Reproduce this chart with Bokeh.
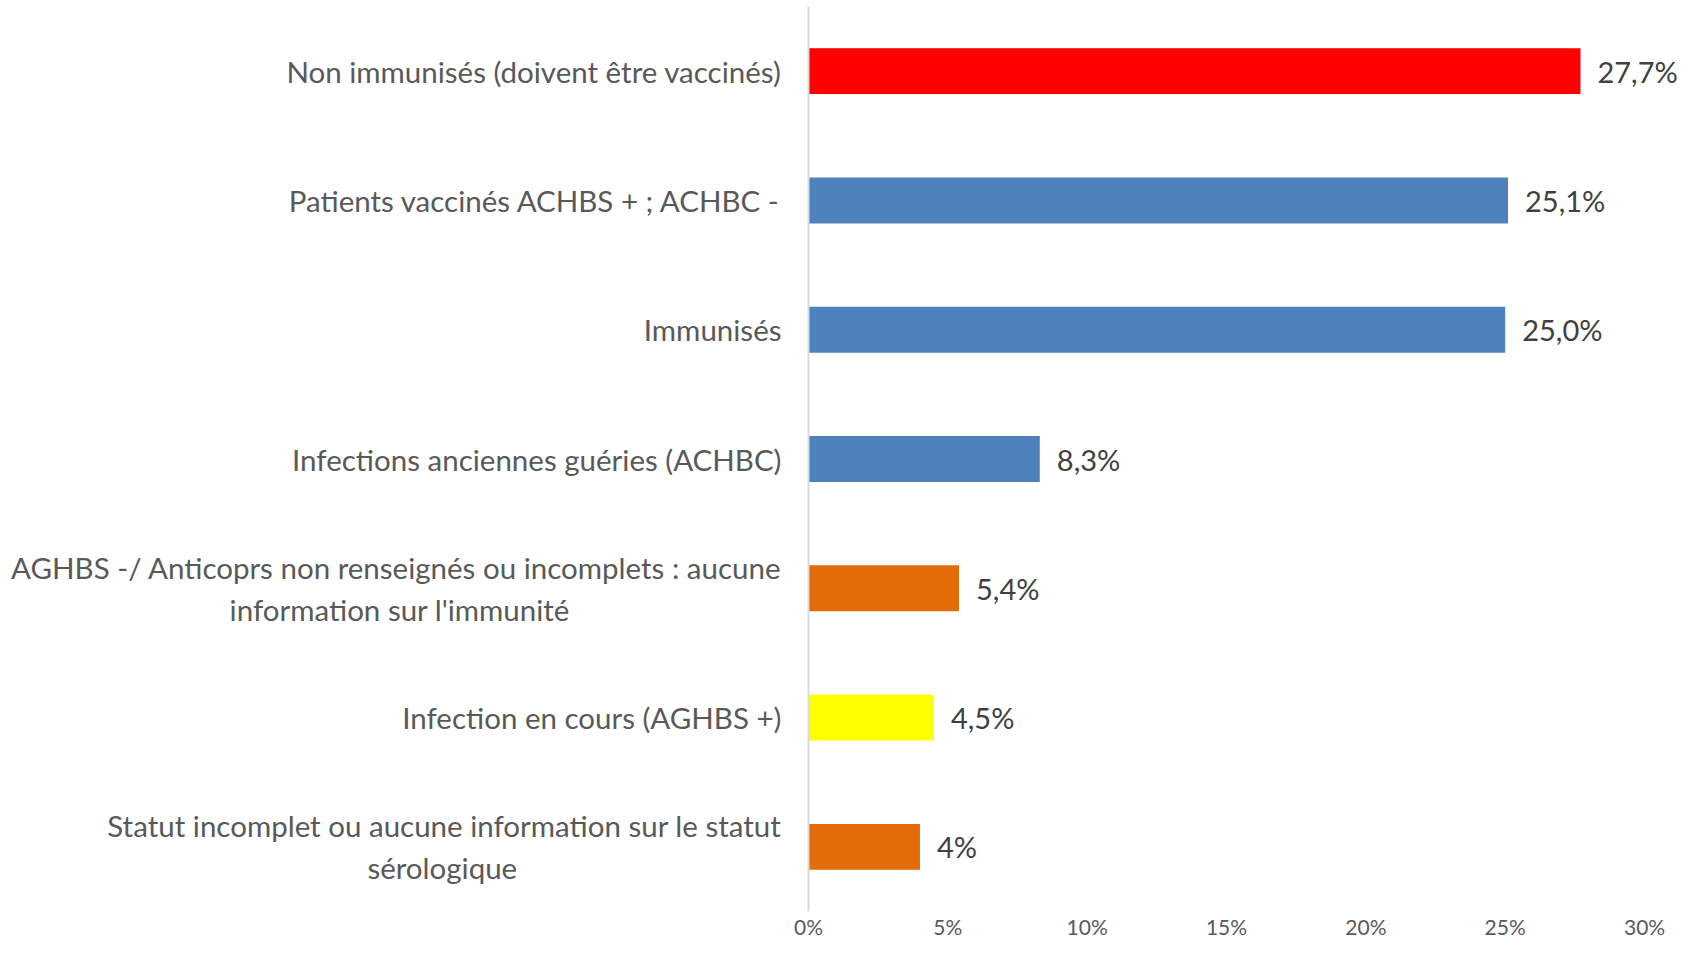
from bokeh.plotting import figure
from bokeh.models import ColumnDataSource, FactorRange, Range1d, FixedTicker
from bokeh.core.properties import value
from bokeh.embed import file_html
from bokeh.resources import INLINE

categories = [
    "Non immunisés (doivent être vaccinés)",
    "Patients vaccinés ACHBS + ; ACHBC -",
    "Immunisés",
    "Infections anciennes guéries (ACHBC)",
    "AGHBS -/ Anticoprs non renseignés ou incomplets : aucune\ninformation sur l'immunité",
    "Infection en cours (AGHBS +)",
    "Statut incomplet ou aucune information sur le statut\nsérologique",
]
# non-breaking spaces appended to the second line so it looks centred under the first
second_line_pad = [0, 0, 0, 0, 28, 0, 35]
values = [27.7, 25.1, 25.0, 8.3, 5.4, 4.5, 4.0]
value_labels = ["27,7%", "25,1%", "25,0%", "8,3%", "5,4%", "4,5%", "4%"]
colors = ["#FF0000", "#4F81BD", "#4F81BD", "#4F81BD", "#E36C09", "#FFFF00", "#E36C09"]
x_ticks = [0, 5, 10, 15, 20, 25, 30]
x_tick_labels = ["0%", "5%", "10%", "15%", "20%", "25%", "30%"]

factors = [c + "\u00a0" * n for c, n in zip(categories, second_line_pad)]

src = ColumnDataSource(dict(cat=factors, val=values, lab=value_labels, col=colors))

p = figure(
    width=1680, height=941,
    y_range=FactorRange(factors=list(reversed(factors)), range_padding=0),
    x_range=Range1d(0, 31.29),
    output_backend="svg", toolbar_location=None,
    min_border_left=808, min_border_right=0, min_border_top=6, min_border_bottom=30,
)
p.hbar(y="cat", right="val", left=0, height=0.355, fill_color="col", line_color=None, source=src)
p.text(x="val", y="cat", text="lab", source=src, x_offset=17, text_baseline="middle",
       text_align="left", text_font_size="29px", text_color="#404040",
       text_font=value("Lato"))

p.outline_line_color = None
p.xgrid.grid_line_color = None
p.ygrid.grid_line_color = None
p.background_fill_color = "white"
p.border_fill_color = "white"

p.xaxis.ticker = FixedTicker(ticks=x_ticks)
p.xaxis.major_label_overrides = {t: l for t, l in zip(x_ticks, x_tick_labels)}
p.xaxis.axis_line_color = None
p.xaxis.major_tick_line_color = None
p.xaxis.minor_tick_line_color = None
p.xaxis.major_tick_in = 0
p.xaxis.major_tick_out = 0
p.xaxis.major_label_standoff = 2
p.xaxis.major_label_text_font = "Lato"
p.xaxis.major_label_text_font_size = "21px"
p.xaxis.major_label_text_color = "#595959"

p.yaxis.axis_line_color = "#D9D9D9"
p.yaxis.axis_line_width = 2
p.yaxis.major_tick_line_color = None
p.yaxis.minor_tick_line_color = None
p.yaxis.major_tick_in = 0
p.yaxis.major_tick_out = 0
p.yaxis.major_label_standoff = 27
p.yaxis.major_label_text_font = "Lato"
p.yaxis.major_label_text_font_size = "29.5px"
p.yaxis.major_label_text_color = "#595959"

open("out.html", "w").write(file_html(p, INLINE))
